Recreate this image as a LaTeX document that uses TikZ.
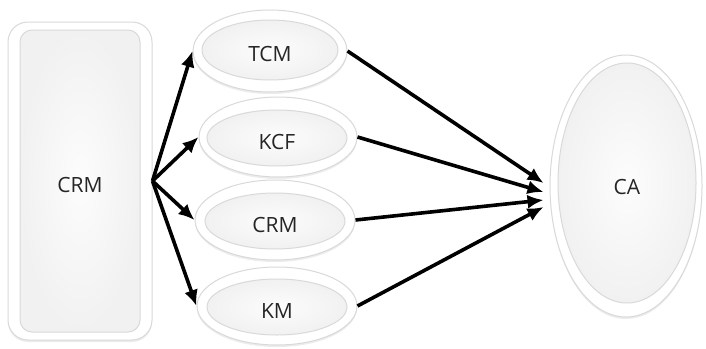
\documentclass[tikz,border=0pt]{standalone}
\usepackage{fontspec}
\setmainfont{Open Sans}
\usetikzlibrary{shapes.geometric, shadows, arrows.meta}

\tikzset{
    frame/.style={draw=gray!30, fill=white, line width=0.5pt,
        drop shadow={opacity=0.15, shadow xshift=0pt, shadow yshift=-1pt}},
    core/.style={draw=gray!30, line width=0.5pt, inner color=gray!2, outer color=gray!11,
        text=black!85, font=\fontsize{10.5}{12}\selectfont, text height=11pt, text depth=0pt},
    arr/.style={->, >={Latex[length=8pt,width=7pt]}, line width=1.8pt}
}

\begin{document}
\begin{tikzpicture}[x=0.5pt, y=-0.5pt]
        \useasboundingbox[fill=white] (0,0) rectangle (706,348);

        % Left box
        \node[frame, rectangle, rounded corners=10pt, minimum width=72pt, minimum height=159pt] (crm) at (80,181) {};
        \node[core, rectangle, fill=gray!4, rounded corners=6pt, minimum width=60pt, minimum height=151pt] (crmin) at (80,181) {CRM};

        % Middle ellipses
        \node[frame, ellipse, minimum width=77pt, minimum height=41pt] (tcm) at (270,51) {};
        \node[core, ellipse, minimum width=68pt, minimum height=30pt] (tcmin) at (270,50) {TCM};

        \node[frame, ellipse, minimum width=79pt, minimum height=40pt] (kcf) at (278,137) {};
        \node[core, ellipse, minimum width=70pt, minimum height=28pt] (kcfin) at (277,138) {KCF};

        \node[frame, ellipse, minimum width=80pt, minimum height=40pt] (crm2) at (275,220) {};
        \node[core, ellipse, minimum width=70pt, minimum height=28pt] (crm2in) at (275,221) {CRM};

        \node[frame, ellipse, minimum width=80pt, minimum height=39pt] (km) at (277,306) {};
        \node[core, ellipse, minimum width=70pt, minimum height=28pt] (kmin) at (277,307) {KM};

        % Right ellipse
        \node[frame, ellipse, minimum width=76pt, minimum height=131pt] (ca) at (626,186) {};
        \node[core, ellipse, minimum width=69pt, minimum height=120pt] (cain) at (627,183) {CA};

        % Arrows out of CRM
        \foreach \n in {tcm,kcf,crm2,km} {
            \draw[arr] (crm.east) -- (\n.west);
        }

        % Arrows into CA
        \foreach \n/\dy in {tcm/-3, kcf/6, crm2/14, km/21} {
            \draw[arr] (\n.east) -- ([shift={(-6,\dy)}]ca.west);
        }
    \end{tikzpicture}
\end{document}
